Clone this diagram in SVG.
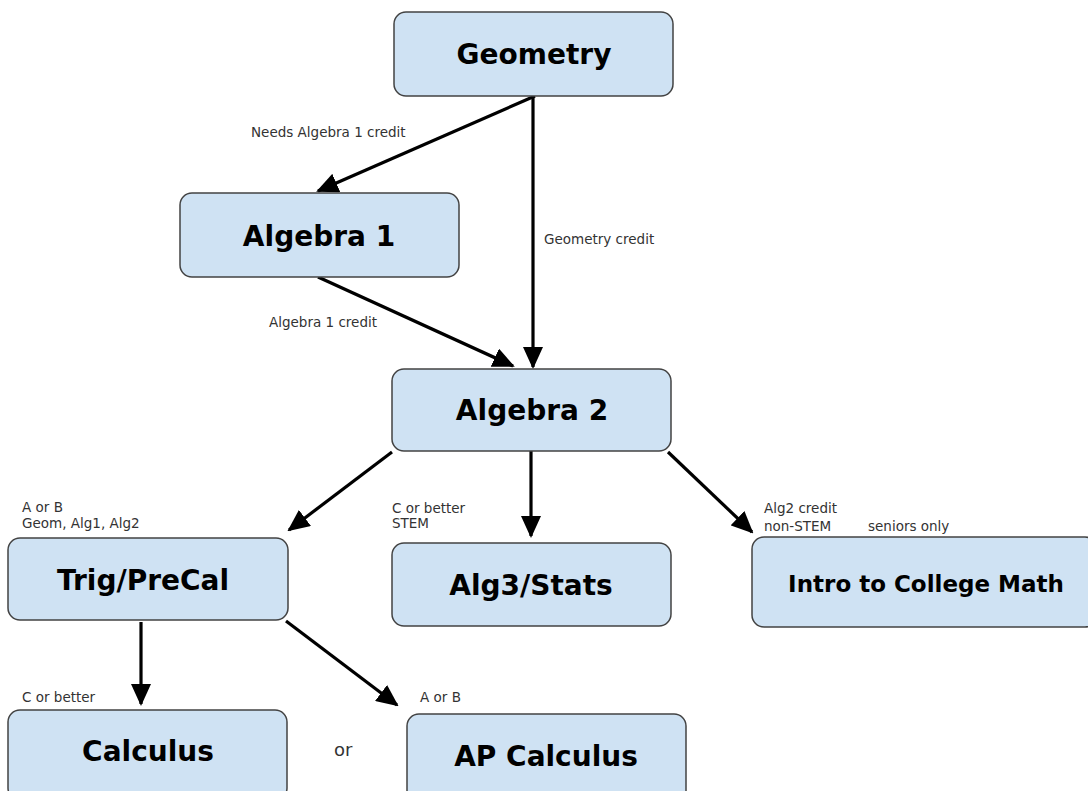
<svg xmlns="http://www.w3.org/2000/svg" width="1088" height="791" viewBox="0 0 1088 791">
<style>
.box{fill:#cfe2f3;stroke:#434343;stroke-width:1.5}
.t{font-family:"DejaVu Sans",sans-serif;font-weight:bold;font-size:28px;fill:#000;text-anchor:middle}
.l{font-family:"DejaVu Sans",sans-serif;font-size:13.5px;fill:#333}
.c{stroke:#000;stroke-width:3.2;fill:none;marker-end:url(#ah)}
</style>
<defs>
<marker id="ah" markerUnits="userSpaceOnUse" markerWidth="22" markerHeight="20" refX="20" refY="10" orient="auto">
<path d="M0,0 L22,10 L0,20 Z" fill="#000"/>
</marker>
</defs>
<rect width="1088" height="791" fill="#fff"/>
<g id="connectors">
<line class="c" x1="535" y1="96" x2="318" y2="191"/>
<line class="c" x1="533" y1="96" x2="533" y2="367"/>
<line class="c" x1="318" y1="277" x2="513" y2="366"/>
<line class="c" x1="392" y1="452" x2="289" y2="530"/>
<line class="c" x1="531" y1="449" x2="531" y2="536"/>
<line class="c" x1="668" y1="452" x2="752" y2="532"/>
<line class="c" x1="141" y1="622" x2="141" y2="704"/>
<line class="c" x1="286" y1="621" x2="397" y2="705"/>
</g>
<g id="labels">
<text class="l" x="251" y="137">Needs Algebra 1 credit</text>
<text class="l" x="544" y="244">Geometry credit</text>
<text class="l" x="269" y="327">Algebra 1 credit</text>
<text class="l" x="22" y="512">A or B</text>
<text class="l" x="22" y="528">Geom, Alg1, Alg2</text>
<text class="l" x="392" y="513">C or better</text>
<text class="l" x="392" y="528">STEM</text>
<text class="l" x="764" y="513">Alg2 credit</text>
<text class="l" x="764" y="531">non-STEM</text>
<text class="l" x="868" y="531">seniors only</text>
<text class="l" x="22" y="702">C or better</text>
<text class="l" x="420" y="702">A or B</text>
<text class="l" x="334" y="756" style="font-size:18px">or</text>
</g>
<g id="geometry"><rect class="box" x="394" y="12" width="279" height="84" rx="12"/><text class="t" x="534" y="64">Geometry</text></g>
<g id="algebra1"><rect class="box" x="180" y="193" width="279" height="84" rx="12"/><text class="t" x="319" y="246">Algebra 1</text></g>
<g id="algebra2"><rect class="box" x="392" y="369" width="279" height="82" rx="12"/><text class="t" x="532" y="420">Algebra 2</text></g>
<g id="trig"><rect class="box" x="8" y="538" width="280" height="82" rx="12"/><text class="t" x="143" y="590">Trig/PreCal</text></g>
<g id="alg3"><rect class="box" x="392" y="543" width="279" height="83" rx="12"/><text class="t" x="531" y="595">Alg3/Stats</text></g>
<g id="intro"><rect class="box" x="752" y="537" width="345" height="90" rx="12"/><text class="t" x="926" y="592" style="font-size:23px">Intro to College Math</text></g>
<g id="calculus"><rect class="box" x="8" y="710" width="279" height="90" rx="12"/><text class="t" x="148" y="761">Calculus</text></g>
<g id="apcalculus"><rect class="box" x="407" y="714" width="279" height="90" rx="12"/><text class="t" x="546" y="766">AP Calculus</text></g>
</svg>
